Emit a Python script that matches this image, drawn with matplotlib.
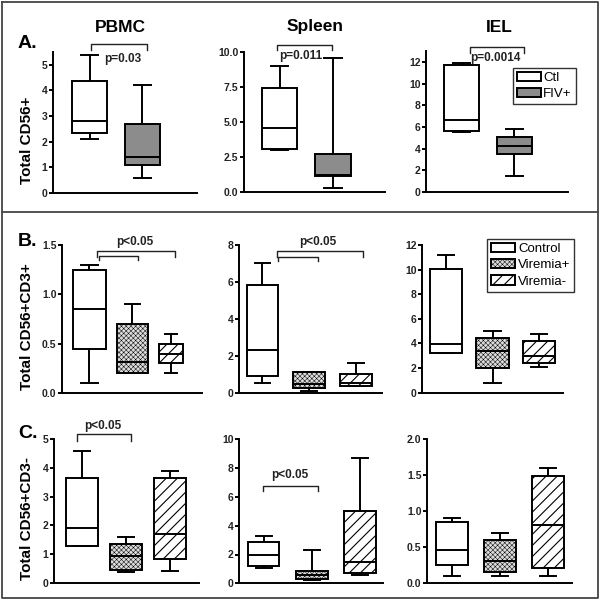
import matplotlib
matplotlib.use("Agg")
import matplotlib.pyplot as plt
from matplotlib.patches import Patch
from matplotlib.lines import Line2D
import matplotlib.transforms as mtransforms

plt.rcParams['font.family'] = ['Liberation Sans', 'DejaVu Sans']
plt.rcParams['hatch.linewidth'] = 0.8

# ---------------- data: [whisker low, Q1, median, Q3, whisker high] ----------------
tissues = ["PBMC", "Spleen", "IEL"]
groups_A = ["Ctl", "FIV+"]
groups_BC = ["Control", "Viremia+", "Viremia-"]

A_PBMC = [[2.1, 2.35, 2.8, 4.35, 5.4], [0.6, 1.1, 1.4, 2.7, 4.2]]
A_Spleen = [[3.0, 3.05, 4.55, 7.4, 9.0], [0.3, 1.15, 1.25, 2.75, 9.6]]
A_IEL = [[5.57, 5.63, 6.6, 11.7, 11.9], [1.5, 3.48, 4.25, 5.08, 5.8]]

B_PBMC = [[0.1, 0.45, 0.85, 1.25, 1.3], [0.2, 0.2, 0.31, 0.70, 0.9], [0.2, 0.3, 0.4, 0.5, 0.6]]
B_Spleen = [[0.5, 0.92, 2.3, 5.85, 7.0], [0.1, 0.27, 0.47, 1.1, 1.1], [0.35, 0.36, 0.55, 1.0, 1.6]]
B_IEL = [[3.25, 3.25, 3.96, 10.05, 11.2], [0.81, 1.98, 3.39, 4.47, 5.0], [2.11, 2.39, 2.98, 4.2, 4.77]]

C_PBMC = [[1.29, 1.29, 1.91, 3.64, 4.59], [0.38, 0.44, 0.93, 1.35, 1.6], [0.41, 0.84, 1.70, 3.64, 3.89]]
C_Spleen = [[1.08, 1.2, 1.97, 2.89, 3.31], [0.25, 0.30, 0.58, 0.88, 2.31], [0.58, 0.69, 1.46, 5.04, 8.68]]
C_IEL = [[0.10, 0.25, 0.45, 0.85, 0.90], [0.10, 0.15, 0.30, 0.60, 0.70], [0.10, 0.20, 0.80, 1.49, 1.60]]

row_labels = ["A.", "B.", "C."]
y_labels = ["Total CD56+", "Total CD56+CD3+", "Total CD56+CD3-"]

A_yticks = [[0, 1, 2, 3, 4, 5], [0, 2.5, 5.0, 7.5, 10.0], [0, 2, 4, 6, 8, 10, 12]]
B_yticks = [[0, 0.5, 1.0, 1.5], [0, 2, 4, 6, 8], [0, 2, 4, 6, 8, 10, 12]]
C_yticks = [[0, 1, 2, 3, 4, 5], [0, 2, 4, 6, 8, 10], [0, 0.5, 1.0, 1.5, 2.0]]
A_ylim = [5.5, 10.0, 13.0]
B_ylim = [1.5, 8.0, 12.0]
C_ylim = [5.0, 10.0, 2.0]
A_fmt = ["{:.0f}", "{:.1f}", "{:.0f}"]
B_fmt = ["{:.1f}", "{:.0f}", "{:.0f}"]
C_fmt = ["{:.0f}", "{:.0f}", "{:.1f}"]

# ---------------- styling ----------------
LW = 1.4
DOT_HATCH = "xxxxxxx"
style_A = [dict(facecolor="white", hatch=None), dict(facecolor="#8c8c8c", hatch=None)]
style_BC = [dict(facecolor="white", hatch=None),
            dict(facecolor="#dcdcdc", hatch=DOT_HATCH),
            dict(facecolor="white", hatch="///")]

fig = plt.figure(figsize=(6, 6), dpi=100)
fig.patch.set_facecolor("white")


def add_axes_px(l, r, t, b):
    return fig.add_axes([l / 600, 1 - b / 600, (r - l) / 600, (b - t) / 600])


def thin_hatch(patch):
    h = patch.get_hatch()
    if h and h.startswith("x") and hasattr(patch, "set_hatch_linewidth"):
        patch.set_hatch_linewidth(0.35)


def draw_panel(ax, data, styles, positions, widths, xlim, ylim, yticks, fmt):
    stats = []
    for d in data:
        stats.append(dict(whislo=d[0], q1=d[1], med=d[2], q3=d[3], whishi=d[4], fliers=[]))
    res = ax.bxp(stats, positions=positions, widths=widths, capwidths=[w * 0.5 for w in widths],
                 patch_artist=True, showfliers=False,
                 boxprops=dict(linewidth=LW, edgecolor="black"),
                 whiskerprops=dict(linewidth=LW, color="black"),
                 capprops=dict(linewidth=LW, color="black"),
                 medianprops=dict(linewidth=LW, color="black"))
    for patch, st in zip(res["boxes"], styles):
        patch.set_facecolor(st["facecolor"])
        if st["hatch"]:
            patch.set_hatch(st["hatch"])
            thin_hatch(patch)
    ax.set_xlim(*xlim)
    ax.set_ylim(0, ylim)
    ax.set_yticks(yticks)
    ax.set_yticklabels([fmt.format(v) for v in yticks], fontsize=7.5, fontweight="bold",
                       color="#222222")
    ax.set_xticks([])
    for s in ("top", "right"):
        ax.spines[s].set_visible(False)
    for s in ("left", "bottom"):
        ax.spines[s].set_linewidth(LW)
    ax.tick_params(axis="y", direction="out", length=3, width=LW, pad=1)
    ax.patch.set_alpha(0)


def bracket(ax, x1, x2, ytop, yleg, lw=1.0):
    tr = mtransforms.blended_transform_factory(ax.transData, ax.transAxes)
    ax.plot([x1, x1, x2, x2], [yleg, ytop, ytop, yleg], color="#222222", lw=lw,
            transform=tr, clip_on=False, solid_joinstyle="round")


def ptext(ax, x, y, s):
    tr = mtransforms.blended_transform_factory(ax.transData, ax.transAxes)
    ax.text(x, y, s, transform=tr, ha="center", va="center", fontsize=8.5,
            fontweight="bold", color="#222222")


# ---------------- Row A ----------------
A_data = [A_PBMC, A_Spleen, A_IEL]
A_rects = [(53, 197, 52, 193), (244, 385, 52, 192), (426, 568, 51, 192)]
A_xlims = [(0.31, 3.03), (0.336, 2.97), (0.33, 3.01)]
axA = []
for i in range(3):
    ax = add_axes_px(*A_rects[i])
    draw_panel(ax, A_data[i], style_A, [1, 2], [0.66, 0.66], A_xlims[i], A_ylim[i], A_yticks[i], A_fmt[i])
    axA.append(ax)

bracket(axA[0], 1.03, 2.08, 1.057, 1.014)
ptext(axA[0], 1.63, 0.95, "p=0.03")
bracket(axA[1], 0.95, 1.98, 1.05, 1.014)
ptext(axA[1], 1.40, 0.975, "p=0.011")
bracket(axA[2], 1.16, 2.18, 1.028, 0.986)
ptext(axA[2], 1.63, 0.95, "p=0.0014")

# ---------------- Row B ----------------
B_data = [B_PBMC, B_Spleen, B_IEL]
B_rects = [(62, 202, 245, 393), (239, 382, 245, 392.7), (422, 563, 245, 392.7)]
B_xlims = [(0.36, 3.63), (0.497, 3.56), (0.48, 3.52)]
B_pos = [[1, 2, 2.9], [1, 2, 3], [1, 2, 3]]
B_w = [[0.77, 0.72, 0.55], [0.68, 0.68, 0.68], [0.69, 0.69, 0.69]]
axB = []
for i in range(3):
    ax = add_axes_px(*B_rects[i])
    draw_panel(ax, B_data[i], style_BC, B_pos[i], B_w[i], B_xlims[i], B_ylim[i], B_yticks[i], B_fmt[i])
    axB.append(ax)

bracket(axB[0], 1.17, 3.01, 0.961, 0.919)
bracket(axB[0], 1.22, 2.13, 0.928, 0.899)
ptext(axB[0], 2.06, 1.02, "p<0.05")
bracket(axB[1], 1.31, 3.15, 0.96, 0.919)
bracket(axB[1], 1.33, 2.19, 0.922, 0.893)
ptext(axB[1], 2.19, 1.022, "p<0.05")

# ---------------- Row C ----------------
C_data = [C_PBMC, C_Spleen, C_IEL]
C_rects = [(54, 199, 439, 583), (239, 383, 439.3, 583.3), (427, 572, 439.3, 582.7)]
C_xlims = [(0.36, 3.66), (0.49, 3.48), (0.48, 3.5)]
C_w = [[0.73] * 3, [0.66] * 3, [0.67] * 3]
axC = []
for i in range(3):
    ax = add_axes_px(*C_rects[i])
    draw_panel(ax, C_data[i], style_BC, [1, 2, 3], C_w[i], C_xlims[i], C_ylim[i], C_yticks[i], C_fmt[i])
    axC.append(ax)

bracket(axC[0], 0.88, 2.11, 1.033, 0.986)
ptext(axC[0], 1.47, 1.09, "p<0.05")
bracket(axC[1], 0.99, 2.13, 0.678, 0.641)
ptext(axC[1], 1.55, 0.752, "p<0.05")

# ---------------- titles, labels ----------------
title_x = [120, 315, 499]
for x, t in zip(title_x, tissues):
    fig.text(x / 600, 1 - 27 / 600, t, ha="center", va="center", fontsize=12.5, fontweight="bold")

row_y = [43, 242, 433]
for y, lab in zip(row_y, row_labels):
    fig.text(18 / 600, 1 - y / 600, lab, ha="left", va="center", fontsize=14, fontweight="bold")

ylab_y = [140, 327, 518]
for y, lab in zip(ylab_y, y_labels):
    fig.text(27 / 600, 1 - y / 600, lab, ha="center", va="center", rotation=90,
             fontsize=11, fontweight="bold")

# ---------------- legends ----------------
hA = [Patch(facecolor=s["facecolor"], edgecolor="black", linewidth=LW, hatch=s["hatch"]) for s in style_A]
legA = fig.legend(hA, groups_A, loc="upper left", bbox_to_anchor=(513 / 600, 1 - 68 / 600),
                  borderaxespad=0, fontsize=9.5, frameon=True, fancybox=False, edgecolor="black",
                  handlelength=1.8, handleheight=0.65, handletextpad=0.2, labelspacing=0.3,
                  borderpad=0.3)
legA.get_frame().set_linewidth(1.0)

hB = [Patch(facecolor=s["facecolor"], edgecolor="black", linewidth=LW, hatch=s["hatch"]) for s in style_BC]
legB = fig.legend(hB, groups_BC, loc="upper left", bbox_to_anchor=(487 / 600, 1 - 239 / 600),
                  borderaxespad=0, fontsize=9.5, frameon=True, fancybox=False, edgecolor="black",
                  handlelength=1.85, handleheight=0.7, handletextpad=0.2, labelspacing=0.3,
                  borderpad=0.3)
legB.get_frame().set_linewidth(1.0)
for p in legB.get_patches():
    thin_hatch(p)

# ---------------- frame borders ----------------
bc = "#444444"
fig.add_artist(Line2D([2 / 600, 598 / 600, 598 / 600, 2 / 600, 2 / 600],
                      [1 - 2 / 600, 1 - 2 / 600, 1 - 598 / 600, 1 - 598 / 600, 1 - 2 / 600],
                      color=bc, lw=1.3, transform=fig.transFigure))
fig.add_artist(Line2D([2 / 600, 598 / 600], [1 - 212 / 600, 1 - 212 / 600],
                      color=bc, lw=1.3, transform=fig.transFigure))

fig.savefig("out.png", dpi=100, facecolor="white")
